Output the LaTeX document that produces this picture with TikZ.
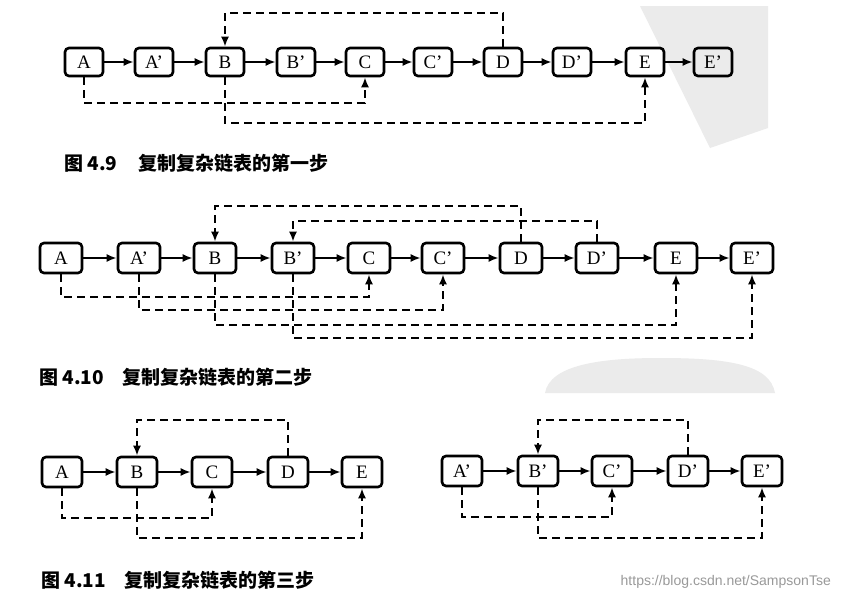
\documentclass[tikz,border=0pt]{standalone}
\usepackage{fontspec}
\setmainfont{Liberation Serif}
\newfontfamily\cjk{Noto Sans CJK SC}
\newfontfamily\urlfont{Liberation Sans}
\usetikzlibrary{arrows.meta,positioning}

\begin{document}
\begin{tikzpicture}[x=1pt, y=-1pt, >=Latex,
    listbox/.style={draw, line width=2.6pt, rounded corners=4pt, minimum width=38pt, minimum height=28pt, inner sep=0pt, font=\fontsize{19}{19}\selectfont},
    nextarrow/.style={-{Latex[length=10pt,width=8pt]}, line width=2.1pt},
    randarrow/.style={-{Latex[length=10pt,width=8pt]}, line width=2.7pt, dash pattern=on 8pt off 5pt},
    caption/.style={anchor=west, inner sep=0pt, font=\cjk\bfseries\fontsize{19}{19}\selectfont}]
    \useasboundingbox (0,0) rectangle (841,600);
    \fill[white] (0,0) rectangle (841,600);

    \fill[black!8] (640,6) -- (768,6) -- (768,128) -- (710,148) -- cycle;
    \fill[black!8] (545,393) .. controls (550,365) and (600,358) .. (660,358) .. controls (730,358) and (770,365) .. (775,393) -- cycle;

    \foreach \n/\t/\x in {A/A/84,Ap/A'/154,B/B/225,Bp/B'/296,C/C/365,Cp/C'/433,D/D/503,Dp/D'/572,E/E/645,Ep/E'/713}
        \node[listbox] (one\n) at (\x,62) {\t};
    \foreach \u/\v in {A/Ap,Ap/B,B/Bp,Bp/C,C/Cp,Cp/D,D/Dp,Dp/E,E/Ep}
        \draw[nextarrow] (one\u) -- (one\v);
    \draw[randarrow] (oneD.north) -- (oneD.north |- 0,13) -| (oneB.north);
    \draw[randarrow] (oneA.south) -- (oneA.south |- 0,103) -| (oneC.south);
    \draw[randarrow] (oneB.south) -- (oneB.south |- 0,123) -| (oneE.south);
    \node[caption] (capOne) at (64,163) {图 4.9\hspace{1.1em}复制复杂链表的第一步};

    \foreach \n/\t/\x in {A/A/61,Ap/A'/139,B/B/215,Bp/B'/293,C/C/369,Cp/C'/443,D/D/521,Dp/D'/597,E/E/676,Ep/E'/752}
        \node[listbox, minimum width=42pt, minimum height=30pt] (two\n) at (\x,258) {\t};
    \foreach \u/\v in {A/Ap,Ap/B,B/Bp,Bp/C,C/Cp,Cp/D,D/Dp,Dp/E,E/Ep}
        \draw[nextarrow] (two\u) -- (two\v);
    \draw[randarrow] (twoD.north) -- (twoD.north |- 0,206) -| (twoB.north);
    \draw[randarrow] (twoDp.north) -- (twoDp.north |- 0,221) -| (twoBp.north);
    \draw[randarrow] (twoA.south) -- (twoA.south |- 0,297) -| (twoC.south);
    \draw[randarrow] (twoAp.south) -- (twoAp.south |- 0,310) -| (twoCp.south);
    \draw[randarrow] (twoB.south) -- (twoB.south |- 0,325) -| (twoE.south);
    \draw[randarrow] (twoBp.south) -- (twoBp.south |- 0,338) -| (twoEp.south);
    \node[caption] (capTwo) at (39,377) {图 4.10\hspace{1em}复制复杂链表的第二步};

    \foreach \n/\t/\x in {A/A/62,B/B/137,C/C/212,D/D/288,E/E/362}
        \node[listbox, minimum width=40pt, minimum height=30pt] (org\n) at (\x,472) {\t};
    \foreach \n/\t/\x in {A/A'/462,B/B'/538,C/C'/612,D/D'/688,E/E'/762}
        \node[listbox, minimum width=40pt, minimum height=30pt] (cpy\n) at (\x,471) {\t};
    \foreach \u/\v in {A/B,B/C,C/D,D/E} {
        \draw[nextarrow] (org\u) -- (org\v);
        \draw[nextarrow] (cpy\u) -- (cpy\v);
    }
    \draw[randarrow] (orgD.north) -- (orgD.north |- 0,420) -| (orgB.north);
    \draw[randarrow] (orgA.south) -- (orgA.south |- 0,518) -| (orgC.south);
    \draw[randarrow] (orgB.south) -- (orgB.south |- 0,538) -| (orgE.south);
    \draw[randarrow] (cpyD.north) -- (cpyD.north |- 0,420) -| (cpyB.north);
    \draw[randarrow] (cpyA.south) -- (cpyA.south |- 0,517) -| (cpyC.south);
    \draw[randarrow] (cpyB.south) -- (cpyB.south |- 0,538) -| (cpyE.south);
    \node[caption] (capThree) at (41,580) {图 4.11\hspace{1em}复制复杂链表的第三步};

    \node[anchor=east, inner sep=0pt, text=black!40, font=\urlfont\fontsize{14}{14}\selectfont] (wmark) at (831,582) {https://blog.csdn.net/SampsonTse};
\end{tikzpicture}
\end{document}
